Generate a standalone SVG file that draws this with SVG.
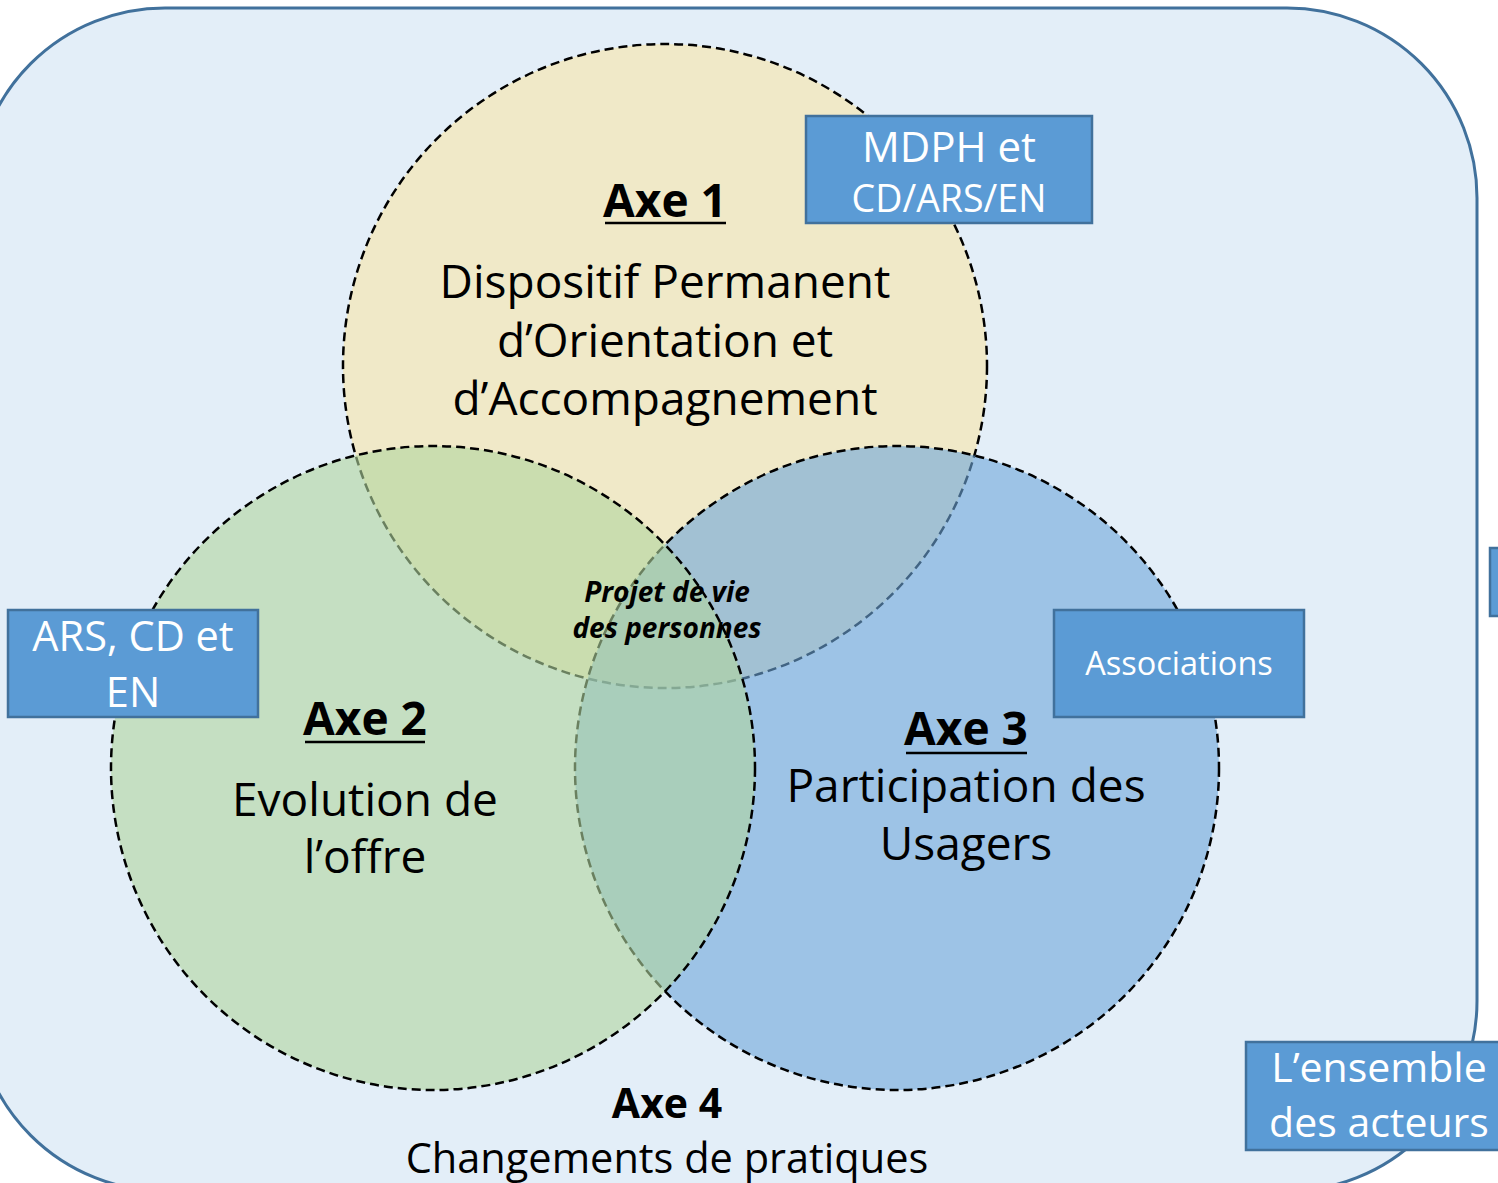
<svg xmlns="http://www.w3.org/2000/svg" width="1498" height="1183" viewBox="0 0 1498 1183">
<style>
.t{font-family:"Open Sans",Lato,"Liberation Sans",sans-serif;fill:#000;text-anchor:middle}
.b{font-weight:bold}
.w{fill:#fff}
.box{fill:#5B9BD5;stroke:#41719C;stroke-width:2.5}
.circ{stroke:#000;stroke-width:2.5;stroke-dasharray:9 5}
.ul{stroke:#000;stroke-width:2.5}
</style>
<rect width="1498" height="1183" fill="#ffffff"/>
<g id="frame">
<rect x="-25" y="8" width="1502" height="1183" rx="190" ry="190" fill="#E3EEF8" stroke="#41719C" stroke-width="3"/>
</g>
<g id="axe1-circle">
<circle class="circ" cx="665" cy="366" r="322" fill="#F0E9C8"/>
</g>
<g id="axe3-circle">
<circle class="circ" cx="897" cy="768" r="322" fill="#6EA7DB" fill-opacity="0.6"/>
</g>
<g id="axe2-circle">
<circle class="circ" cx="433" cy="768" r="322" fill="#B1D69F" fill-opacity="0.6"/>
</g>
<g id="connectors"/>
<g id="axe1">
<text class="t b" x="665" y="217" font-size="46">Axe 1</text>
<line class="ul" x1="605" y1="223" x2="726" y2="223"/>
<text class="t" x="665" y="298" font-size="46">Dispositif Permanent</text>
<text class="t" x="665" y="357" font-size="46">d’Orientation et</text>
<text class="t" x="665" y="415" font-size="46">d’Accompagnement</text>
</g>
<g id="axe2">
<text class="t b" x="365" y="735" font-size="46">Axe 2</text>
<line class="ul" x1="305" y1="742" x2="425" y2="742"/>
<text class="t" x="365" y="816" font-size="46">Evolution de</text>
<text class="t" x="365" y="873" font-size="46">l’offre</text>
</g>
<g id="axe3">
<text class="t b" x="966" y="745" font-size="46">Axe 3</text>
<line class="ul" x1="906" y1="753" x2="1027" y2="753"/>
<text class="t" x="966" y="802" font-size="46">Participation des</text>
<text class="t" x="966" y="860" font-size="46">Usagers</text>
</g>
<g id="center">
<text class="t b" x="667" y="602" font-size="28" font-style="italic">Projet de vie</text>
<text class="t b" x="667" y="638" font-size="28" font-style="italic">des personnes</text>
</g>
<g id="axe4">
<text class="t b" x="667" y="1118" font-size="41">Axe 4</text>
<text class="t" x="667" y="1173" font-size="41.5">Changements de pratiques</text>
</g>
<g id="box-mdph">
<rect class="box" x="806" y="116" width="286" height="107"/>
<text class="t w" x="949" y="162" font-size="42">MDPH et</text>
<text class="t w" x="949" y="212" font-size="37.5">CD/ARS/EN</text>
</g>
<g id="box-ars">
<rect class="box" x="8" y="610" width="250" height="107"/>
<text class="t w" x="133" y="651" font-size="41.5">ARS, CD et</text>
<text class="t w" x="133" y="707" font-size="41.5">EN</text>
</g>
<g id="box-associations">
<rect class="box" x="1054" y="610" width="250" height="107"/>
<text class="t w" x="1179" y="675" font-size="32.5">Associations</text>
</g>
<g id="box-ensemble">
<rect class="box" x="1246" y="1042" width="270" height="108"/>
<text class="t w" x="1379" y="1082" font-size="41">L’ensemble</text>
<text class="t w" x="1379" y="1137" font-size="41">des acteurs</text>
</g>
<g id="box-edge">
<rect class="box" x="1490" y="548" width="60" height="68"/>
</g>
</svg>
